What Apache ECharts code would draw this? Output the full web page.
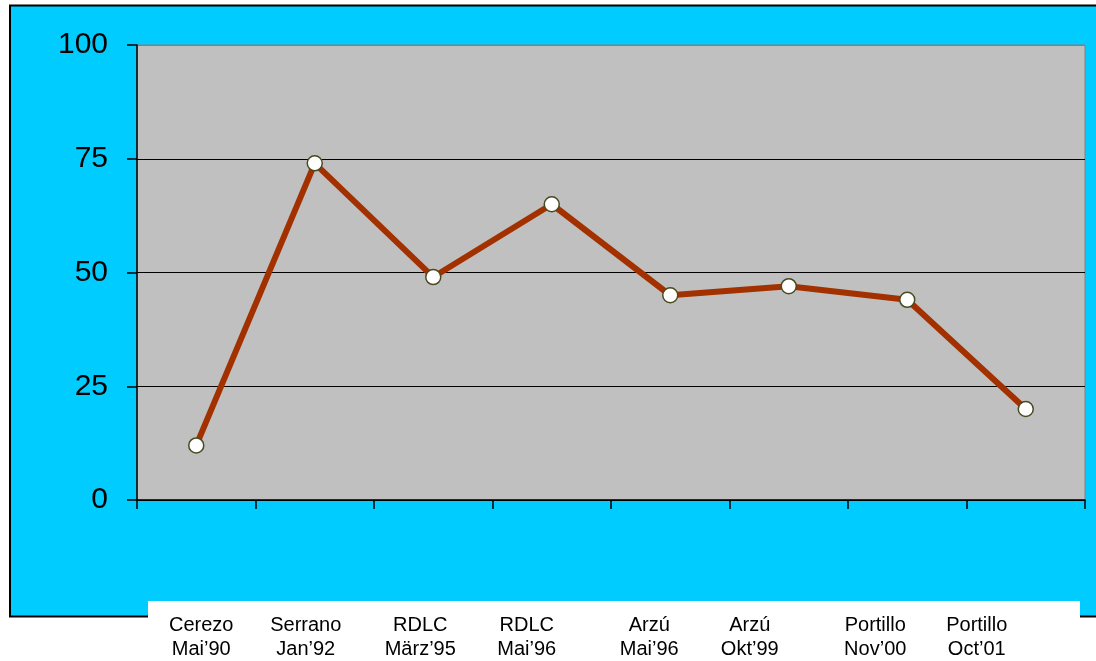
<!DOCTYPE html>
<html>
<head>
<meta charset="utf-8">
<script src="https://cdn.jsdelivr.net/npm/echarts@6/dist/echarts.min.js"></script>
<style>
html,body{margin:0;padding:0;background:#fff;}
#chart{width:1096px;height:661px;}
</style>
</head>
<body>
<div id="chart"></div>
<script>
// ---- data ----
const leaders = ['Cerezo', 'Serrano', 'RDLC', 'RDLC', 'Arzú', 'Arzú', 'Portillo', 'Portillo'];
const dates = ['Mai’90', 'Jan’92', 'März’95', 'Mai’96', 'Mai’96', 'Okt’99', 'Nov’00', 'Oct’01'];
const values = [12, 74, 49, 65, 45, 47, 44, 20];
const yTicks = [0, 25, 50, 75, 100];

// ---- styling (label horizontal shifts in px) ----
const labelShift = [5, -9, -13, -25, -21, -39, -32, -49];

const categories = leaders.map((l, i) => l + '\n' + dates[i]);

const rich = {};
labelShift.forEach((d, i) => {
  rich['s' + i] = {
    fontFamily: 'Liberation Sans, Arial, sans-serif',
    fontSize: 20,
    lineHeight: 24,
    color: '#000',
    padding: d >= 0 ? [0, 0, 0, 2 * d] : [0, -2 * d, 0, 0]
  };
});

const chart = echarts.init(document.getElementById('chart'));
chart.setOption({
  animation: false,
  backgroundColor: '#ffffff',
  graphic: {
    elements: [
      {
        type: 'rect', z: -100, silent: true,
        shape: { x: 10, y: 5.5, width: 1100, height: 611 },
        style: { fill: '#00CCFF', stroke: '#000000', lineWidth: 2 }
      },
      {
        type: 'rect', z: -50, silent: true,
        shape: { x: 148, y: 601, width: 932, height: 70 },
        style: { fill: '#FFFFFF' }
      }
    ]
  },
  grid: {
    left: 137, right: 11, top: 45, bottom: 161,
    containLabel: false,
    outerBoundsMode: 'none',
    show: true, backgroundColor: '#C0C0C0', borderColor: '#808080', borderWidth: 1
  },
  xAxis: {
    type: 'category',
    data: categories,
    boundaryGap: true,
    axisLine: { lineStyle: { color: '#000', width: 1.5 } },
    axisTick: { show: true, length: 9, lineStyle: { color: '#000', width: 1.5 } },
    axisLabel: {
      interval: 0,
      margin: 113,
      verticalAlign: 'top',
      hideOverlap: false,
      formatter: (v, i) => v.split('\n').map(s => '{s' + i + '|' + s + '}').join('\n'),
      rich: rich
    },
    splitLine: { show: false }
  },
  yAxis: {
    type: 'value',
    min: yTicks[0],
    max: yTicks[yTicks.length - 1],
    interval: yTicks[1] - yTicks[0],
    axisLine: { show: true, lineStyle: { color: '#000', width: 1.5 } },
    axisTick: { show: true, length: 10, lineStyle: { color: '#000', width: 1.5 } },
    axisLabel: {
      margin: 29,
      fontFamily: 'Liberation Sans, Arial, sans-serif',
      fontSize: 30,
      color: '#000'
    },
    splitLine: {
      show: true,
      lineStyle: { color: ['#000', '#000', '#000', '#000', '#808080'], width: 1.2 }
    }
  },
  series: [{
    type: 'line',
    data: values,
    symbol: 'circle',
    symbolSize: 15,
    lineStyle: { color: '#A33100', width: 6 },
    itemStyle: { color: '#FFFFFF', borderColor: '#4A4A20', borderWidth: 1.5 },
    z: 5
  }]
});
</script>
</body>
</html>
